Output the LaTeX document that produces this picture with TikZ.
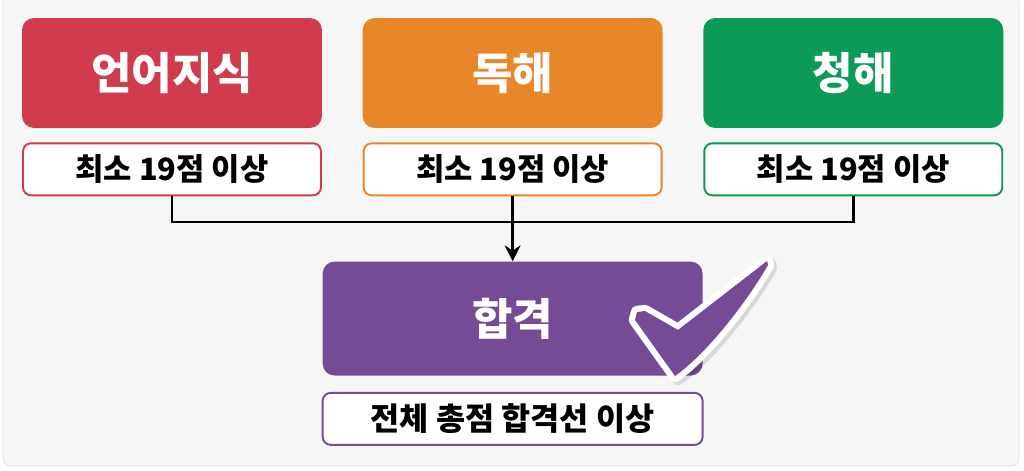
\documentclass[tikz,border=0pt]{standalone}
\usepackage{fontspec}
\setmainfont{Noto Sans CJK KR}
\usepackage{tikz}
\usetikzlibrary{positioning, arrows.meta}
\definecolor{LangRed}{HTML}{D03C4E}
\definecolor{ReadOrange}{HTML}{E8862A}
\definecolor{ListenGreen}{HTML}{0B9B56}
\definecolor{PassPurple}{HTML}{744B94}
\definecolor{PageGray}{HTML}{F6F6F6}
\definecolor{EdgeGray}{HTML}{DDDDDD}

\begin{document}
\begin{tikzpicture}[
    x=0.02cm, y=-0.02cm,
    head/.style={rectangle, fill=#1, rounded corners=0.24cm, minimum width=6cm, minimum height=2.2cm, text=white, font=\bfseries\fontsize{25}{30}\selectfont},
    cond/.style={rectangle, draw=#1, fill=white, rounded corners=0.16cm, line width=1.1pt, minimum width=5.96cm, minimum height=1.04cm, font=\bfseries\fontsize{17.5}{20}\selectfont},
    link/.style={line width=1.7pt, color=black},
    arr/.style={-{Stealth[length=9pt, width=9pt]}, line width=1.7pt, color=black}
]
    % page
    \useasboundingbox (0,0) rectangle (1024,470);
    \clip (0,0) rectangle (1024,470);
    \fill[white] (0,0) rectangle (1024,470);
    \draw[EdgeGray, fill=PageGray, rounded corners=4pt] (3,-4) rectangle (1019,466);

    % Sections
    \node[head=LangRed] (lang) at (172,73) {언어지식};
    \node[head=ReadOrange, right=0.8cm of lang] (read) {독해};
    \node[head=ListenGreen, right=0.8cm of read] (listen) {청해};

    % Minimum scores
    \node[cond=LangRed, below=0.28cm of lang] (langmin) {최소 19점 이상};
    \node[cond=ReadOrange, below=0.28cm of read] (readmin) {최소 19점 이상};
    \node[cond=ListenGreen, below=0.28cm of listen] (listenmin) {최소 19점 이상};

    % Result
    \node[head=PassPurple, minimum width=7.6cm, minimum height=2.28cm, below=1.3cm of readmin] (pass) {합격};
    \node[cond=PassPurple, minimum width=7.6cm, font=\bfseries\fontsize{18}{20}\selectfont, below=0.32cm of pass] (passmin) {전체 총점 합격선 이상};

    % Connections
    \coordinate (join) at (512,222);
    \draw[link] (langmin.south) |- (join) -| (listenmin.south);
    \draw[arr] (readmin.south) -- (pass.north);

    % Check mark
    \filldraw[black, opacity=0.12, line width=7pt, line join=round]
        (638,323) -- (640,315) -- (648,314) -- (681,333) -- (770,264) -- (771,268)
        .. controls (748,308) and (708,358) .. (678,379) -- cycle;
    \draw[white, line width=7pt, line join=round]
        (635,320) -- (637,312) -- (645,311) -- (678,330) -- (767,261) -- (768,265)
        .. controls (745,305) and (705,355) .. (675,376) -- cycle;
    \fill[PassPurple]
        (635,320) -- (637,312) -- (645,311) -- (678,330) -- (767,261) -- (768,265)
        .. controls (745,305) and (705,355) .. (675,376) -- cycle;
\end{tikzpicture}
\end{document}
